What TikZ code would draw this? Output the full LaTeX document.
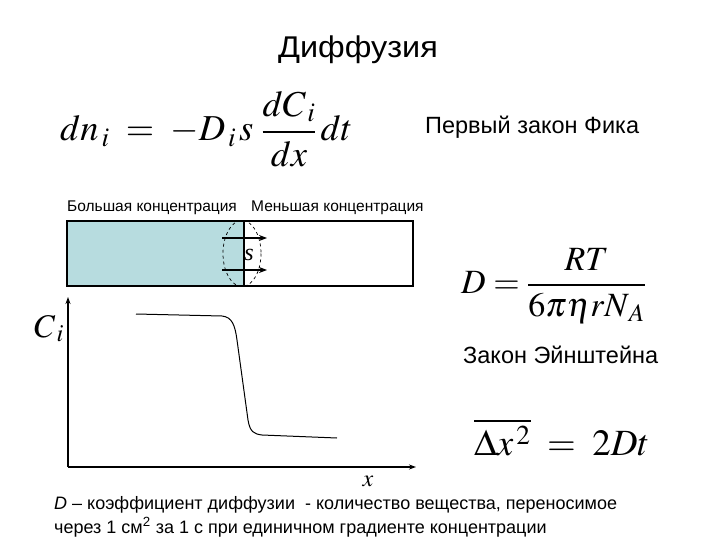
\documentclass[tikz,border=0pt]{standalone}
\usepackage{amsmath}
\usepackage{mathptmx}
\usepackage{fontspec}
\setmainfont{Liberation Sans}
\newfontfamily\tnr{Liberation Serif}
\newfontfamily\widesans[FakeStretch=1.08]{Liberation Sans}
\usetikzlibrary{arrows.meta}
\definecolor{fillblue}{HTML}{B7DCDF}
\tikzset{
  lbl/.style={inner sep=0pt, font=\fontsize{23.5}{28}\selectfont},
  small/.style={inner sep=0pt, font=\fontsize{15.5}{18}\selectfont},
  eq/.style={inner sep=0pt, font=\fontsize{34}{40}\selectfont},
  body/.style={inner sep=0pt, anchor=west, font=\fontsize{18}{22}\selectfont},
  axis/.style={line width=1.3pt, -{Stealth[length=7pt,width=5pt]}},
  flow/.style={line width=2pt, -{Stealth[length=8pt,width=6pt]}},
}
\begin{document}
\begin{tikzpicture}[x=1pt,y=-1pt]
\useasboundingbox (0,0) rectangle (720,540);
\node[inner sep=0pt, font=\widesans\fontsize{30}{34}\selectfont] (title) at (358,50) {Диффузия};
\node[eq, anchor=base west, font=\fontsize{36.5}{42}\selectfont] (fick) at (60,141) {$dn_{\,i}\;=\;-D_{\,i\,}s\;\dfrac{dC_{\,i}}{dx}\,dt$};
\node[lbl, anchor=west] (fickname) at (425,127) {Первый закон Фика};
\node[small, anchor=west] (hi) at (67,208) {Большая концентрация};
\node[small, anchor=west] (lo) at (251,208) {Меньшая концентрация};
% tube
\fill[fillblue] (67,221) rectangle (244,286);
\draw[line width=1.6pt] (67,221) rectangle (413,286);
\draw[line width=1.6pt] (244,221) -- (244,286);
\draw[dashed, line width=0.7pt] (242,253.5) ellipse [x radius=19, y radius=33];
\node[inner sep=0pt, font=\tnr\itshape\fontsize{24}{28}\selectfont] (s) at (249,255) {s};
\coordinate (a1s) at (222,238); \coordinate (a1e) at (267,238);
\coordinate (a2s) at (222,270); \coordinate (a2e) at (267,270);
\draw[flow] (a1s) -- (a1e);
\draw[flow] (a2s) -- (a2e);
% axes
\coordinate (O) at (68,467);
\coordinate (ytop) at (68,297);
\coordinate (xend) at (416,467);
\draw[axis] (O) -- (ytop);
\draw[axis] (O) -- (xend);
\node[inner sep=0pt, anchor=base east, font=\fontsize{33}{38}\selectfont] (ci) at (64,337) {$C_{\,i}$};
\node[inner sep=0pt, font=\fontsize{24}{28}\selectfont] (xl) at (368,481) {$x$};
\draw[line width=1pt] (136,314) -- (222,316) .. controls (232,317) and (235,325) .. (237,340)
  -- (248,420) .. controls (250,432) and (254,434) .. (262,435) -- (337,438);
% Einstein
\node[eq, anchor=west] (ein) at (461,286) {$D=\dfrac{RT}{6\pi\eta r N_{\,A}}$};
\node[lbl, anchor=west] (einname) at (463,355) {Закон Эйнштейна};
\node[eq, anchor=base west, font=\fontsize{37}{42}\selectfont] (msd) at (474,455) {$\overline{\Delta x^{\,2}}\;=\;2Dt$};
% bottom text
\node[body] (t1) at (54,505) {\textit{D} – коэффициент диффузии \ - количество вещества, переносимое};
\node[body] (t2) at (54,527) {через 1 см\textsuperscript{2} за 1 с при единичном градиенте концентрации};
\end{tikzpicture}
\end{document}
